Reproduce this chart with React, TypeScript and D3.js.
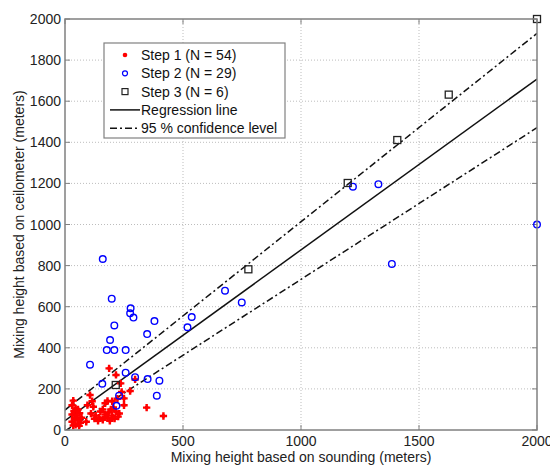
import React from "react";
import * as d3 from "d3";

const step1: [number, number][] = [
  [35, 143], [30, 120], [45, 105], [38, 92], [55, 100], [30, 75], [48, 70], [62, 82],
  [40, 55], [55, 48], [30, 40], [65, 35], [45, 25], [60, 20], [35, 22], [70, 60],
  [106, 170], [95, 121], [120, 113], [110, 80], [130, 70], [145, 60], [160, 50], [150, 90],
  [170, 75], [180, 60], [190, 45], [200, 70], [210, 55], [170, 130], [180, 141], [205, 110],
  [215, 90], [225, 65], [140, 45], [195, 100], [230, 80], [160, 100], [125, 55], [185, 85],
  [115, 140], [200, 140], [90, 40],
  [187, 300], [216, 268], [236, 227], [297, 246], [276, 190], [250, 154], [222, 152],
  [346, 109], [417, 68], [240, 185], [250, 120],
];

const step2: [number, number][] = [
  [160, 832], [198, 639], [209, 509], [278, 592], [276, 568], [290, 547], [379, 530],
  [191, 438], [177, 389], [209, 389], [257, 389], [348, 467], [106, 318], [158, 225],
  [257, 279], [297, 257], [350, 248], [400, 240], [389, 167], [229, 167], [218, 118],
  [519, 500], [537, 550], [678, 678], [749, 621], [1220, 1184], [1328, 1196], [1385, 808],
  [2000, 1000],
];

const step3: [number, number][] = [
  [215, 219], [777, 782], [1198, 1202], [1408, 1411], [1626, 1632], [2000, 2000],
];

const regressionLine: [number, number][] = [[0, 45], [2000, 1708]];
const upperConf: [number, number][] = [[0, 97], [2000, 1930]];
const lowerConf: [number, number][] = [[0, -5], [2000, 1471]];

const xTicks = [0, 500, 1000, 1500, 2000];
const yTicks = [0, 200, 400, 600, 800, 1000, 1200, 1400, 1600, 1800, 2000];

const legendItems = [
  { label: "Step 1 (N = 54)", kind: "red" },
  { label: "Step 2 (N = 29)", kind: "blue" },
  { label: "Step 3 (N = 6)", kind: "square" },
  { label: "Regression line", kind: "line" },
  { label: "95 % confidence level", kind: "dash" },
];

const X0 = 65, X1 = 537, Y0 = 430, Y1 = 19;

export default function App() {
  const x = d3.scaleLinear().domain([0, 2000]).range([X0, X1]);
  const y = d3.scaleLinear().domain([0, 2000]).range([Y0, Y1]);
  const line = d3.line<[number, number]>().x((d) => x(d[0])).y((d) => y(d[1]));
  const cross = d3.symbol().type(d3.symbolCross).size(30)() as string;
  const font = "Liberation Sans, Arial, sans-serif";
  const dashPat = "7,3,2,3";

  const renderMarker = (kind: string, cx: number, cy: number, key?: React.Key) => {
    if (kind === "red")
      return (
        <g key={key} transform={`translate(${cx},${cy})`}>
          <path d={cross} fill="#ff0000" />
          <circle r={2} fill="#ff0000" />
        </g>
      );
    if (kind === "blue")
      return <circle key={key} cx={cx} cy={cy} r={3.3} fill="none" stroke="#0000ff" strokeWidth={1.4} />;
    return <rect key={key} x={cx - 3.5} y={cy - 3.5} width={7} height={7} fill="none" stroke="#222" strokeWidth={1.3} />;
  };

  return (
    <svg width={550} height={466} style={{ position: "absolute", left: 0, top: 0, background: "#fff" }} fontFamily={font}>
      <defs>
        <clipPath id="plotclip">
          <rect x={X0} y={Y1} width={X1 - X0} height={Y0 - Y1} />
        </clipPath>
      </defs>
      {/* grid */}
      <g stroke="#bdbdbd" strokeWidth={1} strokeDasharray="1,2">
        {xTicks.slice(1, -1).map((t) => (
          <line key={"gx" + t} x1={x(t)} x2={x(t)} y1={Y0} y2={Y1} />
        ))}
        {yTicks.slice(1, -1).map((t) => (
          <line key={"gy" + t} x1={X0} x2={X1} y1={y(t)} y2={y(t)} />
        ))}
      </g>
      {/* ticks */}
      <g stroke="#808080" strokeWidth={1}>
        {xTicks.map((t) => (
          <g key={"tx" + t}>
            <line x1={x(t)} x2={x(t)} y1={Y0} y2={Y0 - 5} />
            <line x1={x(t)} x2={x(t)} y1={Y1} y2={Y1 + 5} />
          </g>
        ))}
        {yTicks.map((t) => (
          <g key={"ty" + t}>
            <line x1={X0} x2={X0 + 5} y1={y(t)} y2={y(t)} />
            <line x1={X1} x2={X1 - 5} y1={y(t)} y2={y(t)} />
          </g>
        ))}
      </g>
      {/* lines */}
      <g clipPath="url(#plotclip)" fill="none" stroke="#111">
        <path d={line(regressionLine) as string} strokeWidth={1.5} />
        <path d={line(upperConf) as string} strokeWidth={1.5} strokeDasharray={dashPat} />
        <path d={line(lowerConf) as string} strokeWidth={1.5} strokeDasharray={dashPat} />
      </g>
      {/* points */}
      <g>{step1.map((d, i) => renderMarker("red", x(d[0]), y(d[1]), "r" + i))}</g>
      <g>{step2.map((d, i) => renderMarker("blue", x(d[0]), y(d[1]), "b" + i))}</g>
      <g>{step3.map((d, i) => renderMarker("square", x(d[0]), y(d[1]), "s" + i))}</g>
      {/* frame */}
      <rect x={X0} y={Y1} width={X1 - X0} height={Y0 - Y1} fill="none" stroke="#808080" strokeWidth={1.5} />
      {/* tick labels */}
      <g fontSize={14} fill="#222">
        {xTicks.map((t) => (
          <text key={"lx" + t} x={x(t)} y={446} textAnchor="middle">{t}</text>
        ))}
        {yTicks.map((t) => (
          <text key={"ly" + t} x={61} y={y(t) + 5} textAnchor="end">{t}</text>
        ))}
      </g>
      {/* axis titles */}
      <text x={(X0 + X1) / 2} y={462} fontSize={14} fill="#222" textAnchor="middle">
        Mixing height based on sounding (meters)
      </text>
      <text transform={`translate(24,${(Y0 + Y1) / 2}) rotate(-90)`} fontSize={14} fill="#222" textAnchor="middle">
        Mixing height based on ceilometer (meters)
      </text>
      {/* legend */}
      <g>
        <rect x={104} y={43} width={181} height={95} fill="#fff" stroke="#808080" strokeWidth={1.2} />
        {legendItems.map((it, i) => {
          const cy = 55 + i * 18.3;
          let m: React.ReactNode;
          if (it.kind === "line")
            m = <line x1={110} x2={140} y1={cy} y2={cy} stroke="#111" strokeWidth={1.5} />;
          else if (it.kind === "dash")
            m = <line x1={110} x2={140} y1={cy} y2={cy} stroke="#111" strokeWidth={1.5} strokeDasharray={dashPat} />;
          else if (it.kind === "red")
            m = <circle cx={125} cy={cy} r={2.3} fill="#ff0000" />;
          else if (it.kind === "blue")
            m = <circle cx={125} cy={cy} r={2.5} fill="none" stroke="#0000ff" strokeWidth={1.2} />;
          else m = <rect x={122} y={cy - 3} width={6} height={6} fill="none" stroke="#222" strokeWidth={1.2} />;
          return (
            <g key={it.label}>
              {m}
              <text x={141} y={cy + 5} fontSize={14} fill="#111">{it.label}</text>
            </g>
          );
        })}
      </g>
    </svg>
  );
}
